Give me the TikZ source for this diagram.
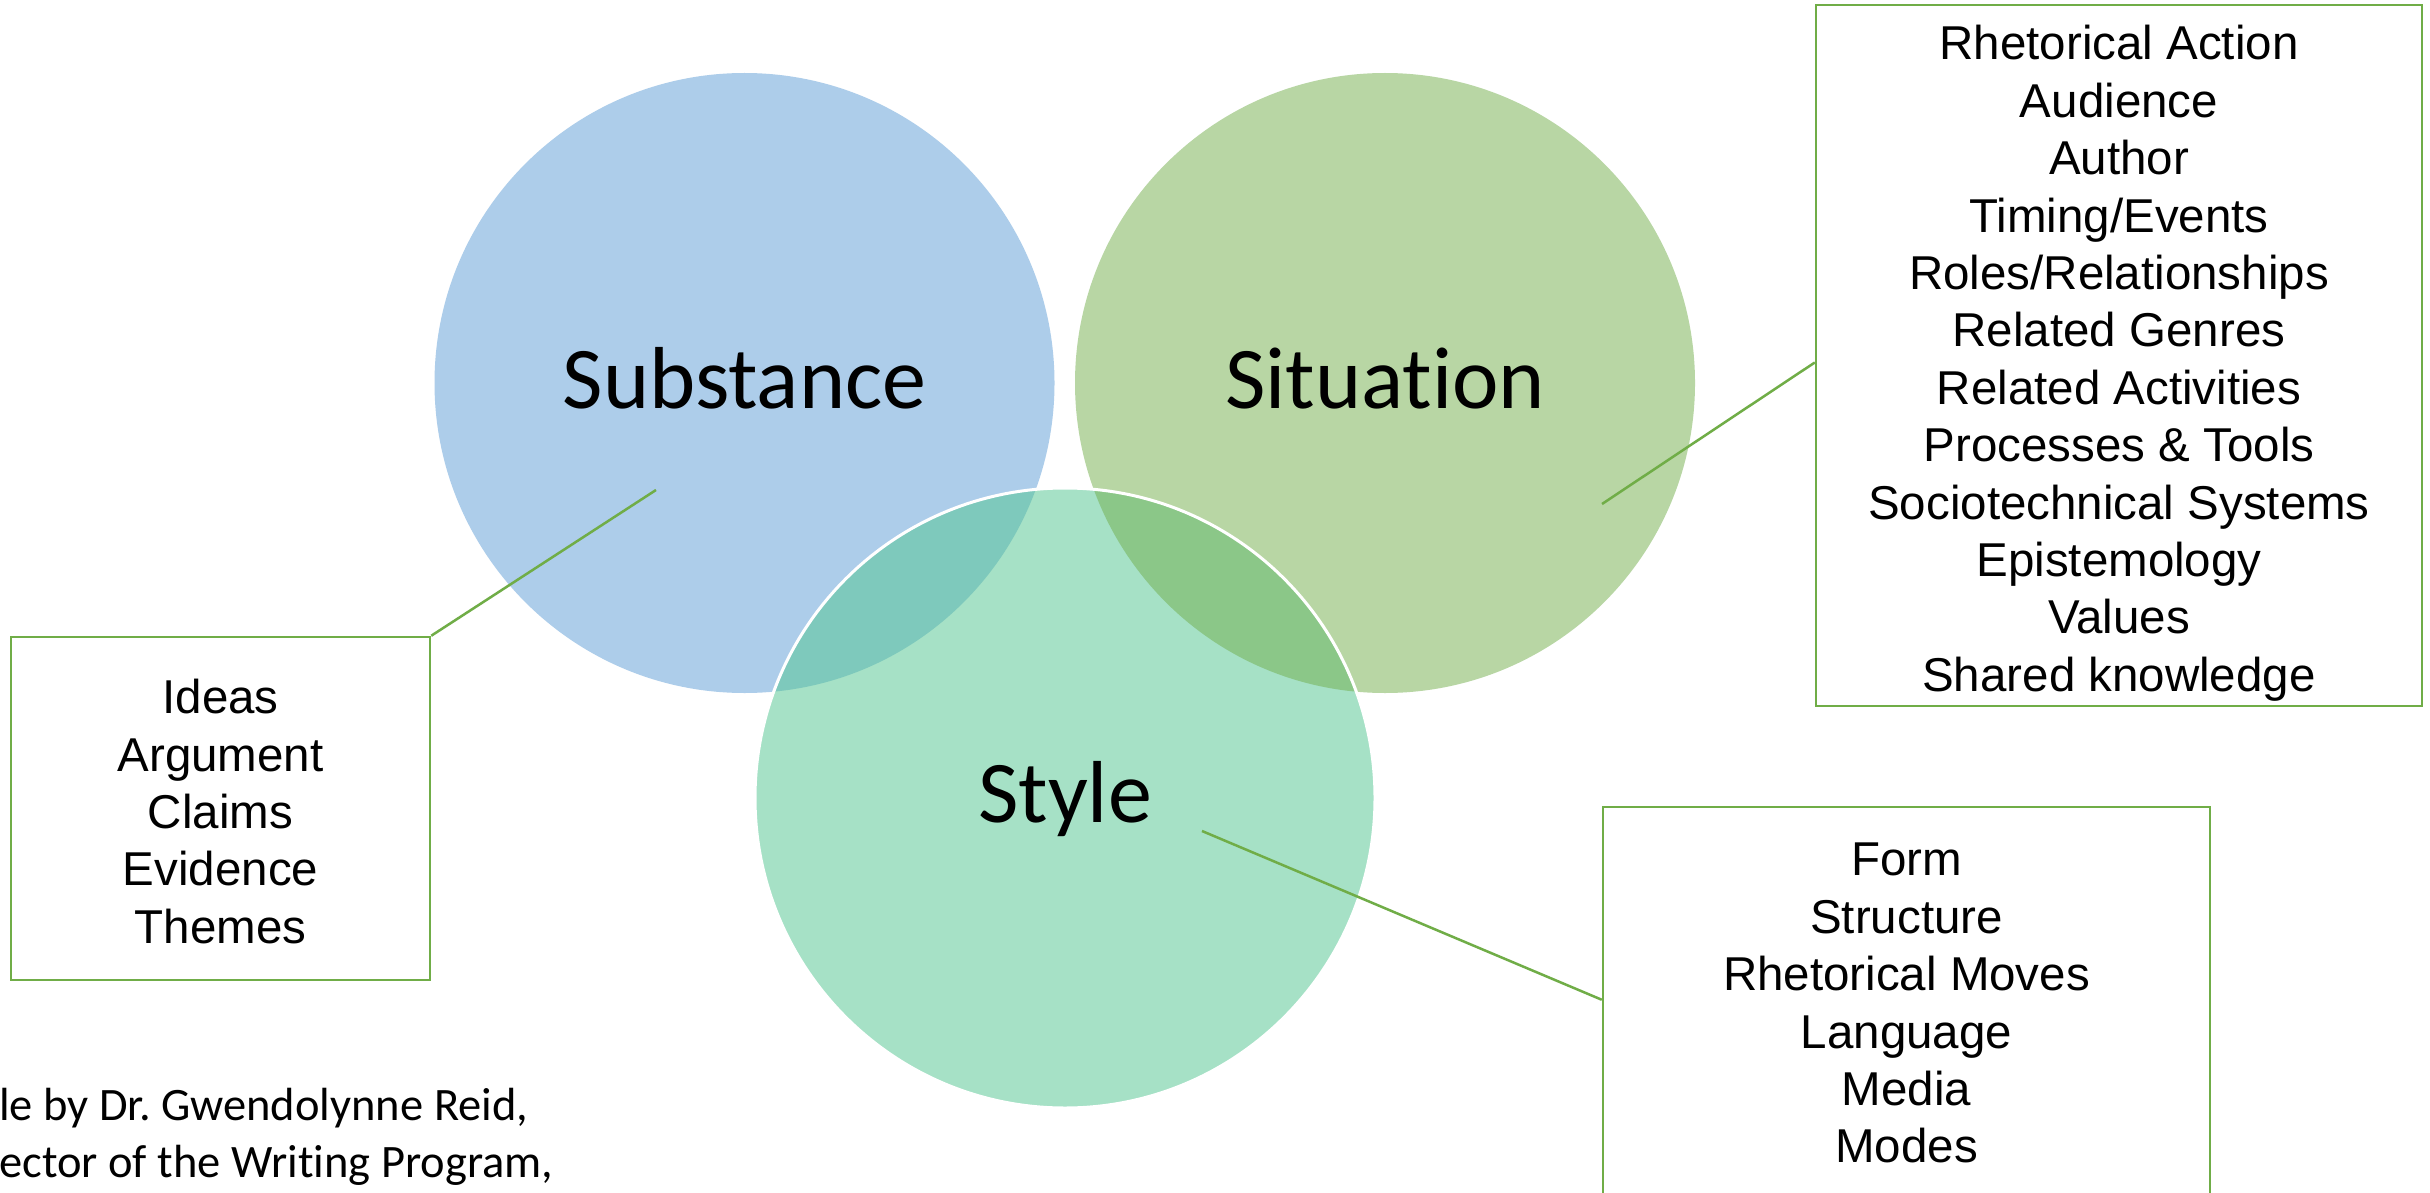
\documentclass[tikz,border=0pt]{standalone}
\usepackage{fontspec}
\setmainfont{Liberation Sans}
\newfontfamily\calibri[Ligatures=NoCommon]{Carlito}
\usetikzlibrary{calc}
\frenchspacing
\definecolor{subfill}{HTML}{ADCDEA}
\definecolor{sitfill}{HTML}{B8D6A4}
\definecolor{styfill}{HTML}{A6E1C6}
\definecolor{ovA}{HTML}{7EC9BC}
\definecolor{ovB}{HTML}{8BC788}
\definecolor{linegreen}{HTML}{70AD47}
\tikzset{
  listbox/.style={draw=linegreen, line width=2.5pt, fill=none, inner sep=0pt},
  listtext/.style={align=center, inner sep=0pt, font=\fontsize{47.5}{57.4}\selectfont},
  bigcircle/.style={circle, inner sep=0pt, minimum size=620pt},
  circlabel/.style={anchor=base, inner sep=0pt, font=\calibri\fontsize{88}{100}\selectfont},
  connector/.style={draw=linegreen, line width=2.5pt},
  credit/.style={anchor=base west, inner sep=0pt, font=\calibri\fontsize{46.5}{56}\selectfont}
}
\begin{document}
\begin{tikzpicture}[x=1pt, y=-1pt]
\clip (0,0) rectangle (2430,1193);
\fill[white] (0,0) rectangle (2430,1193);
% circles
\node[bigcircle, fill=subfill] (sub) at (744.5,383) {};
\node[bigcircle, fill=sitfill] (sit) at (1385,383) {};
\node[bigcircle, fill=styfill] (sty) at (1065,798) {};
\begin{scope}
  \clip (1065,798) circle[radius=310pt];
  \fill[ovA] (744.5,383) circle[radius=310pt];
  \fill[ovB] (1385,383) circle[radius=310pt];
\end{scope}
\draw[white, line width=3pt] (1065,798) circle[radius=310pt];
% labels
\node[circlabel] (sublab) at (744.5,408) {Substance};
\node[circlabel] (sitlab) at (1385,408) {Situation};
\node[circlabel] (stylab) at (1065,822) {Style};
% boxes
\node[listbox, minimum width=419pt, minimum height=343pt] (subbox) at (220.5,808.5) {};
\node[listbox, minimum width=606pt, minimum height=701pt] (sitbox) at (2119,355.5) {};
\node[listbox, minimum width=607pt, minimum height=395pt] (stybox) at (1906.5,1004.5) {};
\node[listtext] (subtext) at (220.5,811.5) {Ideas\\Argument\\Claims\\Evidence\\Themes};
\node[listtext] (sittext) at (2119,363.4) {Rhetorical Action\\Audience\\Author\\Timing/Events\\Roles/Relationships\\Related Genres\\Related Activities\\Processes \& Tools\\Sociotechnical Systems\\Epistemology\\Values\\Shared knowledge};
\node[listtext] (stytext) at (1906.5,1003.2) {Form\\Structure\\Rhetorical Moves\\Language\\Media\\Modes};
% connectors
\coordinate (csub) at (656,490);
\coordinate (csit) at (1602,504);
\coordinate (csty) at (1202,831);
\coordinate (sitend) at ($(sitbox.west)+(0,7)$);
\coordinate (styend) at ($(stybox.north west)+(0,194)$);
\draw[connector] (csub) -- (subbox.north east);
\draw[connector] (csit) -- (sitend);
\draw[connector] (csty) -- (styend);
% credit text
\node[credit] (credit1) at (-1,1120) {le by Dr. Gwendolynne Reid,};
\node[credit] (credit2) at (-1,1177) {ector of the Writing Program,};
\end{tikzpicture}
\end{document}
